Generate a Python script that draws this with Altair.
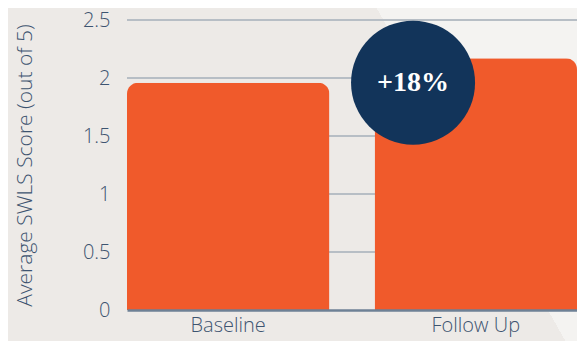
import altair as alt
import pandas as pd

# ---- data ----
categories = ["Baseline", "Follow Up"]
scores = [1.96, 2.17]
grid_values = [0.5, 1.0, 1.5, 2.0, 2.5]
y_ticks = [0, 0.5, 1.0, 1.5, 2.0, 2.5]
annot_label = ["+18%"]
annot_category = ["Follow Up"]
annot_score = [1.96]

bars_df = pd.DataFrame({"period": categories, "score": scores})
grid_df = pd.DataFrame({"score": grid_values})
annot_df = pd.DataFrame({"period": annot_category, "score": annot_score, "label": annot_label})
bg_df = pd.DataFrame({"k": [0]})

# ---- style ----
W, H = 450, 290
PAD_L, PAD_T = 119, 12
PAD_B = 333 - PAD_T - H
BG = "#EDEAE7"
LIGHT = "#F4F3F1"
TEXT = "#3D5470"
ORANGE = "#F05A2B"
NAVY = "#12345A"
GRID = "#B7BEC5"
ZERO = "#6E8196"
FONT = "Open Sans"

x_scale = alt.Scale(domain=categories, paddingInner=0.1825, paddingOuter=0)
y_scale = alt.Scale(domain=[0, 2.5], nice=False)

x_axis = alt.Axis(title=None, labelAngle=0, ticks=False, domain=True,
                  domainColor=ZERO, domainWidth=2.5, labelFont=FONT,
                  labelFontWeight=300, labelFontSize=20, labelColor=TEXT,
                  labelPadding=5, grid=False, zindex=1)
y_axis = alt.Axis(title="Average SWLS Score (out of 5)", values=y_ticks,
                  format="~g", ticks=False, domain=False, grid=False,
                  labelFont=FONT, labelFontWeight=300, labelFontSize=20,
                  labelColor=TEXT, labelPadding=17, titleFont=FONT,
                  titleFontWeight=300, titleFontSize=21, titleColor=TEXT,
                  titlePadding=47, zindex=1)


def xenc(band=0.5):
    return alt.X("period:N", sort=categories, scale=x_scale, axis=x_axis,
                 bandPosition=band)


def yenc():
    return alt.Y("score:Q", scale=y_scale, axis=y_axis)


gradient = alt.LinearGradient(
    gradient="linear",
    stops=[alt.GradientStop(color=BG, offset=0),
           alt.GradientStop(color=BG, offset=0.5),
           alt.GradientStop(color=LIGHT, offset=0.5),
           alt.GradientStop(color=LIGHT, offset=1)],
    x1=0.7188, y1=0.5315, x2=0.9086, y2=0.4685)

background = alt.Chart(bg_df).mark_rect(color=gradient).encode(
    x=alt.value(-PAD_L), x2=alt.value(W), y=alt.value(-PAD_T), y2=alt.value(H + PAD_B)
)

grid = alt.Chart(grid_df).mark_rule(color=GRID, strokeWidth=2).encode(y=yenc())

bars = alt.Chart(bars_df).mark_bar(
    color=ORANGE, cornerRadiusTopLeft=11, cornerRadiusTopRight=11
).encode(x=xenc(), y=yenc())

circle = alt.Chart(annot_df).mark_point(
    shape="circle", filled=True, size=15376, color=NAVY, opacity=1
).encode(x=xenc(0.19), y=yenc())

label = alt.Chart(annot_df).mark_text(
    font="Liberation Serif", fontWeight="bold", fontSize=28, color="white",
    align="center", baseline="middle"
).encode(x=xenc(0.19), y=yenc(), text="label:N")

chart = alt.layer(background, grid, bars, circle, label).properties(
    width=W, height=H,
    autosize=alt.AutoSizeParams(type="none"),
    padding={"left": PAD_L, "top": PAD_T, "right": 0, "bottom": PAD_B},
    background=BG,
).configure_view(stroke=None)

chart.save("out.html", embed_options={"renderer": "svg", "actions": False})
